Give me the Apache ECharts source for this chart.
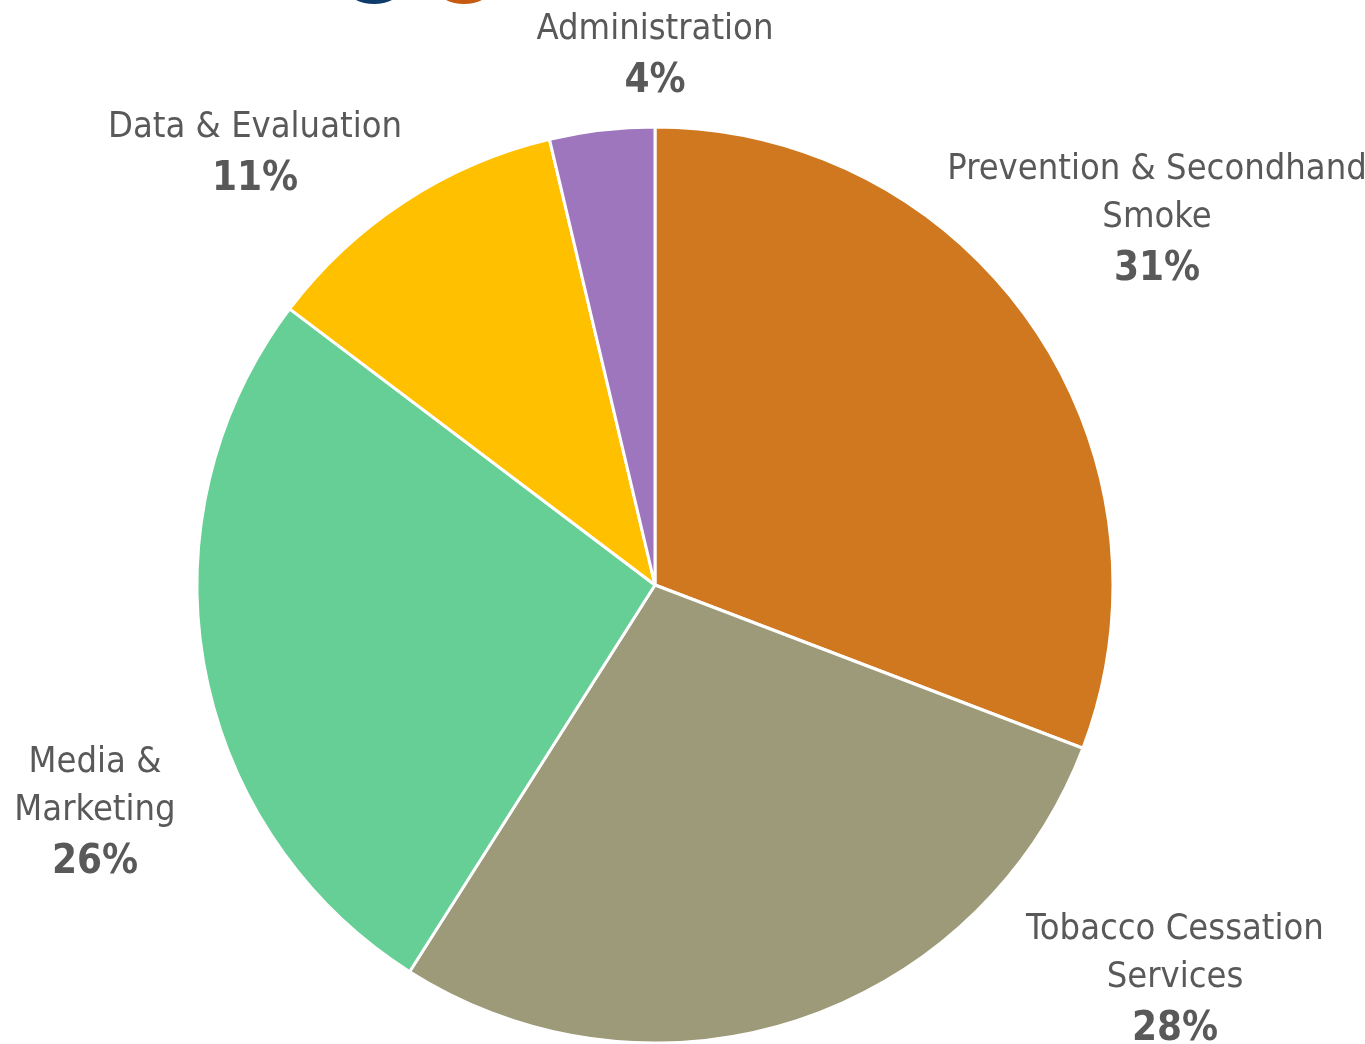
<!DOCTYPE html>
<html>
<head>
<meta charset="utf-8">
<script src="https://cdn.jsdelivr.net/npm/echarts@6/dist/echarts.min.js"></script>
<style>
html,body{margin:0;padding:0;background:#fff;}
#chart{width:1365px;height:1044px;}
</style>
</head>
<body>
<div id="chart"></div>
<script>
// Data
var categories = ["Prevention & Secondhand\nSmoke", "Tobacco Cessation\nServices", "Media &\nMarketing", "Data & Evaluation", "Administration"];
var values = [30.8, 28.2, 26.3, 11.0, 3.7];
var colors = ["#D07820", "#9C9A78", "#66CF95", "#FFC000", "#9E76BE"];
// Label anchor positions (layout, not data)
var labelAnchors = [[1157, 222], [1175, 982], [95, 815], [255, 156], [655, 58]];

var FONT = "'Liberation Sans Narrow','DejaVu Sans Condensed','Roboto',sans-serif";
var total = values.reduce(function(a, b){ return a + b; }, 0);

var chart = echarts.init(document.getElementById('chart'));
chart.setOption({
  backgroundColor: '#ffffff',
  animation: false,
  graphic: [
    { type: 'ellipse', shape: { cx: 374, cy: -16, rx: 30, ry: 20 }, style: { fill: '#0F3B6C' } },
    { type: 'ellipse', shape: { cx: 464, cy: -16, rx: 30, ry: 20 }, style: { fill: '#C55A11' } }
  ],
  series: [{
    type: 'pie',
    center: [655, 585],
    radius: 458,
    startAngle: 90,
    clockwise: true,
    avoidLabelOverlap: false,
    data: categories.map(function(c, i){
      return { name: c, value: values[i], itemStyle: { color: colors[i] } };
    }),
    itemStyle: { borderColor: '#ffffff', borderWidth: 3 },
    label: {
      show: true,
      position: 'outside',
      formatter: function(p){
        var lines = p.name.split('\n').map(function(l){ return '{n|' + l + '}'; });
        lines.push('{p|' + Math.round(p.value / total * 100) + '%}');
        return lines.join('\n');
      },
      align: 'center',
      rich: {
        n: { fontFamily: FONT, fontSize: 36, lineHeight: 48, color: '#595959', align: 'center' },
        p: { fontFamily: FONT, fontSize: 40, fontWeight: 'bold', lineHeight: 56, color: '#595959', align: 'center' }
      }
    },
    labelLine: { show: false },
    labelLayout: function(params){
      var a = labelAnchors[params.dataIndex];
      return { x: a[0], y: a[1], align: 'center', verticalAlign: 'middle' };
    },
    emphasis: { disabled: true }
  }]
});
</script>
</body>
</html>
